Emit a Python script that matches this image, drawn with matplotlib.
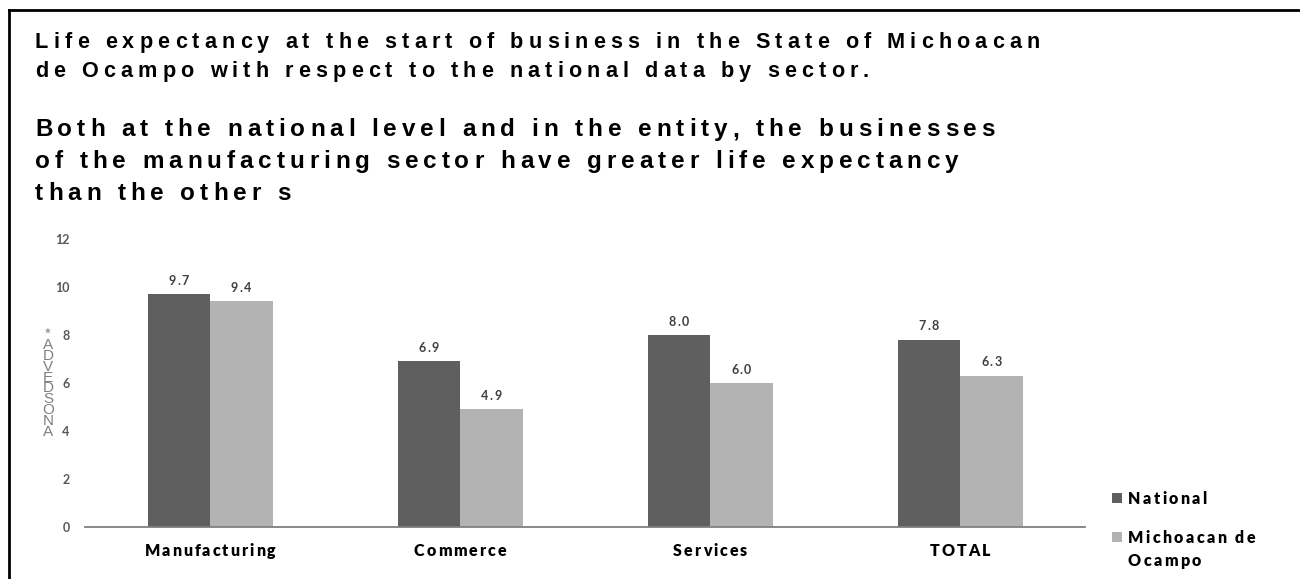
import matplotlib
matplotlib.use('Agg')
import matplotlib.pyplot as plt
import matplotlib.transforms as mtransforms
from matplotlib.font_manager import FontProperties
from matplotlib.lines import Line2D
from matplotlib.patches import Rectangle

W, H = 1300, 579

sectors = ['Manufacturing', 'Commerce', 'Services', 'TOTAL']
national = [9.7, 6.9, 8.0, 7.8]
michoacan = [9.4, 4.9, 6.0, 6.3]
series_names = ['National', 'Michoacan de\nOcampo']
y_ticks = [0, 2, 4, 6, 8, 10, 12]
title_1 = ['Life expectancy at the start of business in the State of Michoacan',
           'de Ocampo with respect to the national data by sector.']
title_2 = ['Both at the national level and in the entity, the businesses',
           'of the manufacturing sector have greater life expectancy',
           'than the other s']
ylabel_letters = ['*', 'A', 'D', 'V', 'E', 'D', 'S', 'O', 'N', 'A']

col_nat = '#5f5f5f'
col_mic = '#b3b3b3'

fig = plt.figure(figsize=(W / 100, H / 100), dpi=100)
renderer = fig.canvas.get_renderer()
ident = mtransforms.IdentityTransform()


def advance(ch, prop):
    w1, _, _ = renderer.get_text_width_height_descent('I' + ch + 'I', prop, ismath=False)
    w0, _, _ = renderer.get_text_width_height_descent('II', prop, ismath=False)
    return w1 - w0


def spaced(x, y, s, prop, spacing, ha='left', color='black'):
    # draw text letter by letter (x, y in pixels, y from top, baseline)
    advs = [advance(c, prop) for c in s]
    total = sum(advs) + spacing * (len(s) - 1)
    if ha == 'center':
        x = x - total / 2
    for c, a in zip(s, advs):
        if c != ' ':
            fig.text(x, H - y, c, fontproperties=prop, color=color,
                     transform=ident, ha='left', va='baseline')
        x += a + spacing


# border
fig.add_artist(Line2D([9 / W, 1], [1 - 10 / H, 1 - 10 / H], color='black', lw=2))
fig.add_artist(Line2D([9 / W, 9 / W], [1 - 10 / H, 0], color='black', lw=2))

# titles
p1 = FontProperties(family='Liberation Sans', weight='bold', size=15.6)
p2 = FontProperties(family='Liberation Sans', weight='bold', size=17.5)
for i, line in enumerate(title_1):
    spaced(35, 48 + 29 * i, line, p1, 5.1)
for i, line in enumerate(title_2):
    spaced(35, 136 + 32 * i, line, p2, 4.9)

# axes
ax = fig.add_axes([85 / W, (H - 527) / H, 1000 / W, 288 / H])
x = list(range(len(sectors)))
bw = 0.25
ax.bar([i - bw / 2 for i in x], national, bw, color=col_nat)
ax.bar([i + bw / 2 for i in x], michoacan, bw, color=col_mic)
ax.set_xlim(-0.5, len(sectors) - 0.5)
ax.set_ylim(0, 12)
ax.set_yticks(y_ticks)
ax.set_yticklabels([str(t) for t in y_ticks], fontfamily='Lato',
                   fontweight='bold', fontsize=9, color='#595959')
ax.tick_params(axis='y', length=0, pad=11)
ax.set_xticks([])
for s in ['top', 'right', 'left']:
    ax.spines[s].set_visible(False)
ax.spines['bottom'].set_color('#7f7f7f')
ax.spines['bottom'].set_linewidth(1.3)

# value labels and category labels
pv = FontProperties(family='Lato', weight='bold', size=9)
pc = FontProperties(family='Lato', weight='heavy', size=11.5)
for i in x:
    for off, vals in ((-bw / 2, national), (bw / 2, michoacan)):
        px, py = ax.transData.transform((i + off, vals[i]))
        spaced(px, H - py - 9.5, f'{vals[i]:.1f}', pv, 1.5, ha='center', color='#404040')
    px, py = ax.transData.transform((i, 0))
    spaced(px, H - py + 29, sectors[i], pc, 2.0, ha='center', color='black')

# y label (stacked letters)
pl = FontProperties(family='Liberation Sans', size=11)
for k, c in enumerate(ylabel_letters):
    spaced(48, 338 + 10.9 * k, c, pl, 0, ha='center', color='#808080')

# legend
pg = FontProperties(family='Lato', weight='heavy', size=11.5)
for j, (name, col) in enumerate(zip(series_names, [col_nat, col_mic])):
    yc = 498 + 39 * j
    fig.add_artist(Rectangle((1112 / W, 1 - (yc + 5) / H), 10 / W, 10 / H,
                             transform=fig.transFigure, color=col, lw=0))
    for k, part in enumerate(name.split('\n')):
        spaced(1128, yc + 6 + 23 * k, part, pg, 2.4)

fig.savefig('out.png', dpi=100, facecolor='white')
